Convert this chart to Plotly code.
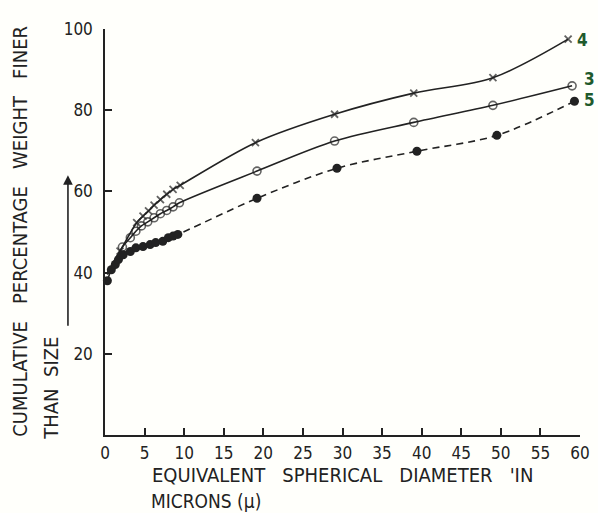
import plotly.graph_objects as go

# ---- data ----
x_curve4 = [0.3, 1.9, 4.0, 4.8, 5.5, 6.2, 7.0, 7.8, 8.6, 9.5, 19.0, 29.0, 39.0, 49.0, 58.5]
y_curve4 = [40.0, 45.3, 52.3, 53.9, 55.2, 56.6, 58.0, 59.3, 60.5, 61.5, 72.0, 79.0, 84.2, 88.0, 97.5]

x_curve3 = [0.3, 2.2, 3.2, 3.9, 4.6, 5.4, 6.2, 7.0, 7.8, 8.6, 9.4, 19.2, 29.0, 39.0, 49.0, 59.0]
y_curve3 = [39.5, 46.3, 48.6, 50.2, 51.5, 52.5, 53.5, 54.5, 55.3, 56.2, 57.2, 65.0, 72.4, 77.0, 81.2, 86.0]

x_curve5 = [0.3, 0.8, 1.3, 1.7, 2.3, 3.2, 3.9, 4.8, 5.7, 6.4, 7.3, 8.0, 8.6, 9.2, 19.2, 29.3, 39.4, 49.5, 59.3]
y_curve5 = [38.0, 40.7, 42.0, 43.2, 44.4, 45.2, 46.1, 46.4, 46.9, 47.4, 47.7, 48.6, 49.0, 49.4, 58.3, 65.7, 69.9, 73.8, 82.2]

curve_labels = ["4", "3", "5"]
x_ticks = list(range(0, 61, 5))
y_ticks = [20, 40, 60, 80, 100]

INK = "#222222"
GREEN = "#1f5a2c"
CFONT = "DejaVu Sans Condensed, DejaVu Sans, sans-serif"

fig = go.Figure()

def marker_sizes(n, size):
    # first point of curves 4 and 3 is the start of the drawn line only
    return [0] + [size] * (n - 1)

fig.add_trace(go.Scatter(
    x=x_curve4, y=y_curve4, mode="lines+markers",
    line=dict(color=INK, width=1.6, shape="spline", smoothing=0.9),
    marker=dict(symbol="x-thin", size=marker_sizes(len(x_curve4), 7),
                line=dict(color=INK, width=1.8), color=INK),
    showlegend=False, cliponaxis=False))

fig.add_trace(go.Scatter(
    x=x_curve3, y=y_curve3, mode="lines+markers",
    line=dict(color=INK, width=1.6, shape="spline", smoothing=0.9),
    marker=dict(symbol="circle-open", size=marker_sizes(len(x_curve3), 8),
                line=dict(color=INK, width=1.6), color=INK),
    showlegend=False, cliponaxis=False))

fig.add_trace(go.Scatter(
    x=x_curve5, y=y_curve5, mode="lines+markers",
    line=dict(color=INK, width=1.6, shape="spline", smoothing=0.9, dash="7px,5px"),
    marker=dict(symbol="circle", size=9, color=INK),
    showlegend=False, cliponaxis=False))

# curve number labels (placed in paper units just right of the end markers)
label_xpaper = [0.992, 1.006, 1.006]
label_y = [y_curve4[-1] - 0.2, y_curve3[-1] + 1.7, y_curve5[-1] + 0.3]
for txt, xv, yv in zip(curve_labels, label_xpaper, label_y):
    fig.add_annotation(x=xv, y=yv, xref="paper", yref="y", text=f"<b>{txt}</b>",
                       showarrow=False, xanchor="left", yanchor="middle", borderpad=0,
                       font=dict(size=17, color=GREEN, family="DejaVu Sans Condensed, DejaVu Sans"))

# axis titles as annotations
fig.add_annotation(xref="paper", yref="paper", x=-0.179, y=0.503,
                   xanchor="center", yanchor="middle",
                   text="CUMULATIVE   PERCENTAGE   WEIGHT   FINER", textangle=-90,
                   showarrow=False, font=dict(size=20, color=INK, family=CFONT))
fig.add_annotation(xref="paper", yref="paper", x=-0.114, y=0.116,
                   xanchor="center", yanchor="middle",
                   text="THAN  SIZE", textangle=-90,
                   showarrow=False, font=dict(size=20, color=INK, family=CFONT))
fig.add_annotation(xref="paper", yref="paper", x=-0.078, y=0.640,
                   ax=0, ay=152, text="", showarrow=True,
                   arrowhead=2, arrowsize=1.2, arrowwidth=1.6, arrowcolor=INK)
fig.add_annotation(xref="paper", yref="paper", x=0.095, y=-0.0985,
                   xanchor="left", yanchor="middle",
                   text="EQUIVALENT   SPHERICAL   DIAMETER   'IN",
                   showarrow=False, font=dict(size=20, color=INK, family=CFONT))
fig.add_annotation(xref="paper", yref="paper", x=0.095, y=-0.163,
                   xanchor="left", yanchor="middle", borderpad=0,
                   text="MICRONS (\u03bc)",
                   showarrow=False, font=dict(size=19, color=INK, family=CFONT))

fig.update_xaxes(range=[0, 60], tickvals=x_ticks, ticks="inside", ticklen=7,
                 tickwidth=1.5, tickcolor=INK, showline=True, linecolor=INK,
                 linewidth=1.5, showgrid=False, zeroline=False, automargin=False,
                 ticklabelstandoff=2,
                 tickfont=dict(size=17, color=INK, family=CFONT))
fig.update_yaxes(range=[0, 100], tickvals=y_ticks, ticks="inside", ticklen=7,
                 tickwidth=1.5, tickcolor=INK, showline=True, linecolor=INK,
                 linewidth=1.5, showgrid=False, zeroline=False, automargin=False,
                 ticklabelstandoff=7,
                 tickfont=dict(size=17, color=INK, family=CFONT))

fig.update_layout(width=598, height=513,
                  margin=dict(l=105, r=18, t=29, b=78),
                  paper_bgcolor="#fffffb", plot_bgcolor="#fffffb")

fig.write_html("out.html", config={"displayModeBar": False},
               post_script="document.body.style.margin='0';")
